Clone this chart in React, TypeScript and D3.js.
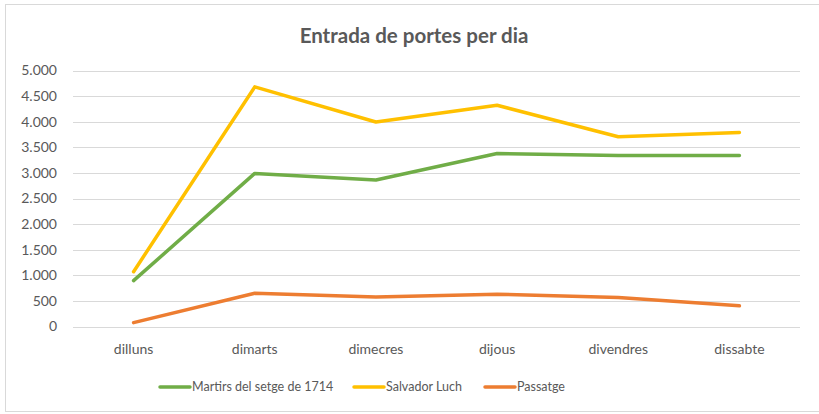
import { useEffect, useRef } from 'react';
import * as d3 from 'd3';

const days = ['dilluns', 'dimarts', 'dimecres', 'dijous', 'divendres', 'dissabte'];
const martirs = [895, 2990, 2860, 3380, 3340, 3340];
const salvador = [1070, 4680, 3995, 4320, 3705, 3790];
const passatge = [75, 650, 575, 630, 565, 405];
const yTicks = [0, 500, 1000, 1500, 2000, 2500, 3000, 3500, 4000, 4500, 5000];

const seriesNames = ['Martirs del setge de 1714', 'Salvador Luch', 'Passatge'];
const seriesColors = ['#70AD47', '#FFC000', '#ED7D31'];

const W = 819;
const H = 414;
const FONT = 'Lato, "Open Sans", sans-serif';

export default function App() {
  const svgRef = useRef<SVGSVGElement | null>(null);

  useEffect(() => {
    if (!svgRef.current) return;
    const svg = d3.select(svgRef.current);
    svg.selectAll('*').remove();

    // chart area frame
    svg.append('rect')
      .attr('x', 5.5).attr('y', 4.5)
      .attr('width', W + 10).attr('height', 407)
      .attr('fill', '#fff')
      .attr('stroke', '#d9d9d9');

    svg.append('text')
      .attr('x', 414).attr('y', 43)
      .attr('text-anchor', 'middle')
      .style('font-family', FONT)
      .style('font-size', '20.5px')
      .style('font-weight', 700)
      .style('fill', '#595959')
      .text('Entrada de portes per dia');

    const x = d3.scaleBand<string>().domain(days).range([73, 800]);
    const y = d3.scaleLinear().domain([0, 5000]).range([326.5, 70.5]);

    // gridlines
    svg.append('g').selectAll('line')
      .data(yTicks)
      .enter()
      .append('line')
      .attr('x1', 73).attr('x2', 800)
      .attr('y1', d => Math.round(y(d)) + 0.5)
      .attr('y2', d => Math.round(y(d)) + 0.5)
      .style('stroke', '#d9d9d9')
      .style('stroke-width', 1);

    const fmt = (v: number) => d3.format(',')(v).replace(/,/g, '.');

    svg.append('g').selectAll('text')
      .data(yTicks)
      .enter()
      .append('text')
      .attr('x', 57)
      .attr('y', d => y(d))
      .attr('dy', '0.35em')
      .attr('text-anchor', 'end')
      .style('font-family', FONT)
      .style('font-size', '14px')
      .style('fill', '#595959')
      .text(d => fmt(d));

    svg.append('g').selectAll('text')
      .data(days)
      .enter()
      .append('text')
      .attr('x', d => (x(d) ?? 0) + x.bandwidth() / 2)
      .attr('y', 354)
      .attr('text-anchor', 'middle')
      .style('font-family', FONT)
      .style('font-size', '14px')
      .style('fill', '#595959')
      .text(d => d);

    const line = d3.line<number>()
      .x((d, i) => (x(days[i]) ?? 0) + x.bandwidth() / 2)
      .y(d => y(d));

    [martirs, salvador, passatge].forEach((s, k) => {
      svg.append('path')
        .attr('d', line(s))
        .attr('fill', 'none')
        .attr('stroke', seriesColors[k])
        .attr('stroke-width', 3.5)
        .attr('stroke-linecap', 'round')
        .attr('stroke-linejoin', 'round');
    });

    // legend
    const legendX = [158, 352, 483];
    const leg = svg.append('g').selectAll('g')
      .data(seriesNames)
      .enter()
      .append('g')
      .attr('transform', (d, i) => `translate(${legendX[i]},387)`);
    leg.append('line')
      .attr('x1', 2).attr('x2', 32)
      .attr('y1', 0).attr('y2', 0)
      .attr('stroke', (d, i) => seriesColors[i])
      .attr('stroke-width', 3.5)
      .attr('stroke-linecap', 'round');
    leg.append('text')
      .attr('x', 34)
      .attr('y', 0)
      .attr('dy', '0.35em')
      .style('font-family', FONT)
      .style('font-size', '12.5px')
      .style('fill', '#595959')
      .text(d => d);
  }, []);

  return (
    <div style={{ position: 'fixed', left: 0, top: 0 }}>
      <svg ref={svgRef} width={W} height={H}></svg>
    </div>
  );
}
